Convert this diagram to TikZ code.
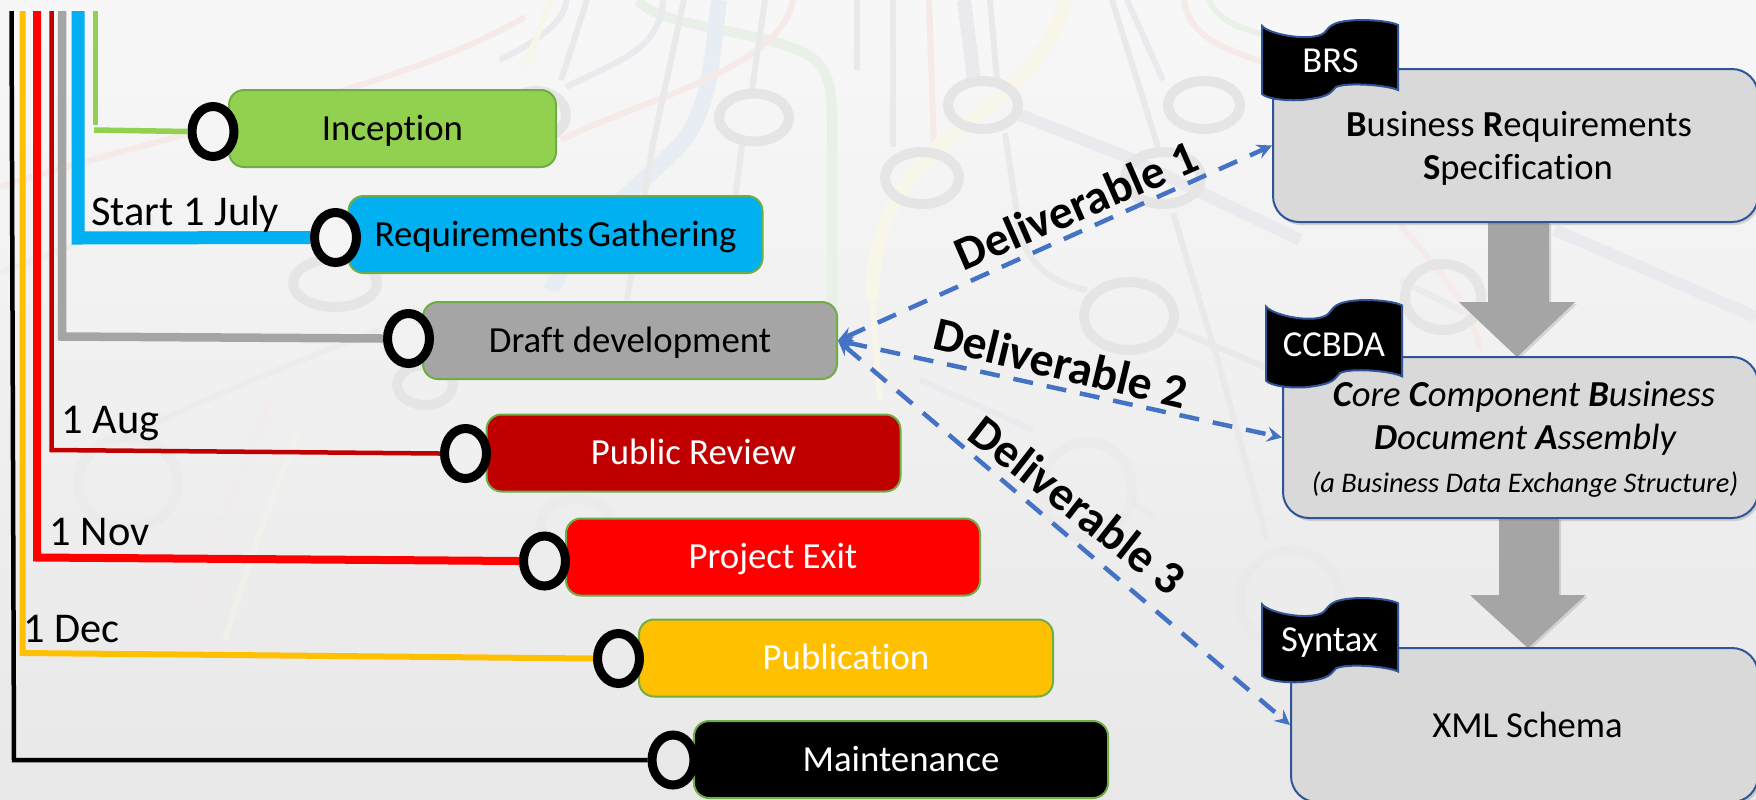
\documentclass[tikz,border=0pt]{standalone}
\usepackage{fontspec}
\setmainfont[Ligatures=NoCommon]{Carlito}
\usetikzlibrary{shapes.geometric,shadows}
\definecolor{stagegreen}{HTML}{92D050}
\definecolor{stageblue}{HTML}{00B0F0}
\definecolor{stagegray}{HTML}{A5A5A5}
\definecolor{stagedark}{HTML}{C00000}
\definecolor{stageamber}{HTML}{FFC000}
\definecolor{stageedge}{HTML}{70AD47}
\definecolor{specfill}{HTML}{D9D9D9}
\definecolor{specedge}{HTML}{2F5597}
\definecolor{dashblue}{HTML}{4472C4}
\definecolor{metrogray}{HTML}{E9E9E9}
\definecolor{metroblue}{HTML}{E8ECF3}
\definecolor{metrolav}{HTML}{EAEAEE}
\definecolor{metropink}{HTML}{F5EAE8}
\definecolor{metrogreen}{HTML}{E9F0E7}
\definecolor{metroyellow}{HTML}{F8F5E9}
\tikzset{
         stagebox/.style={draw=stageedge,line width=1pt,rounded corners=7.5pt,minimum width=207pt,minimum height=38.5pt,inner sep=0pt,text height=14pt,text depth=2.5pt,font=\fontsize{18.4pt}{20pt}\selectfont},
         ringnode/.style={ellipse,draw=black,line width=4.5pt,minimum width=21pt,minimum height=25pt,inner sep=0pt},
         datelabel/.style={font=\fontsize{21.2pt}{24pt}\selectfont,inner sep=0pt,anchor=base west},
         specbox/.style={draw=specedge,line width=1pt,fill=specfill,rounded corners=13pt,inner sep=0pt,drop shadow={shadow xshift=1pt,shadow yshift=-1.5pt,opacity=.3}},
         spectext/.style={font=\fontsize{18.3pt}{21pt}\selectfont,inner sep=0pt},
         tagtext/.style={font=\fontsize{18.3pt}{21pt}\selectfont,text=white,inner sep=0pt},
         wavetag/.pic={
           \draw[draw=specedge,line width=1pt,fill=black](0,6).. controls (8,15) and (50,22) .. (62,13)
             .. controls (68,8) and (66,1) .. (98,0).. controls (115,0) and (130,2) .. (136,5)--(136,70)
             .. controls (125,65) and (85,62) .. (74,67).. controls (68,72) and (70,77) .. (40,80)
             .. controls (25,81) and (5,79) .. (0,74)--cycle;
         },
         blockarrow/.style={fill=stagegray,drop shadow={shadow xshift=1pt,shadow yshift=-1pt,opacity=.25}},
         delivery/.style={dashblue,line width=2.25pt,dash pattern=on 10pt off 7pt,<->,>=stealth},
         deliverylabel/.style={font=\bfseries\fontsize{23.8pt}{26pt}\selectfont,inner sep=0pt},
         metro/.style={line width=3pt,draw=metrogray},
         metroring/.style={line width=5pt,draw=black!10},
        }
\begin{document}
\begin{tikzpicture}[x=.5pt,y=-.5pt]
\useasboundingbox(0,0)rectangle(1756,799);
\clip(0,0)rectangle(1756,799);
%background
\shade[top color=black!3,middle color=black!5,bottom color=black!9](0,0)rectangle(1756,799);
\draw[metro,draw=metrogreen,line width=5pt](638,0).. controls (660,30) and (780,30) .. (815,60).. controls (830,75) and (832,90) .. (832,120)--(832,320);
\draw[metro,draw=metroblue,line width=8pt](719,0).. controls (712,60) and (710,110) .. (680,145).. controls (630,195) and (580,230) .. (551,290);
\draw[metro,draw=metropink](0,187).. controls (180,130) and (400,90) .. (525,17);
\draw[metro,draw=metropink](561,140).. controls (640,100) and (780,70) .. (793,0);
\draw[metro,draw=metrolav](566,87).. controls (620,60) and (660,50) .. (663,0);
\draw[metro](684,0)--(653,143)--(627,300);
\draw[metro](587,0)--(561,80);
\draw[metro,draw=metrolav](500,60).. controls (540,40) and (566,20) .. (566,0);
\draw[metro,draw=metroyellow](551,0)--(525,67);
\draw[metro](765,0)--(752,90);
\draw[metro](742,145)--(735,200);
\draw[metro](857,0)--(857,70);
\draw[metro](893,0)--(893,147);
\draw[metro,draw=metropink](929,0)--(934,147);
\draw[metro,draw=metrolav,line width=7pt](964,0)--(974,80);
\draw[metro](990,0)--(997,80);
\draw[metro,draw=metroyellow,line width=7pt](1066,0).. controls (1050,60) and (1000,100) .. (944,140).. controls (905,180) and (872,220) .. (872,300);
\draw[metro,draw=metrolav,line width=6pt](1015,113)--(1127,157)--(1300,240);
\draw[metro,draw=metrolav,line width=6pt](1555,230)--(1756,317);
\draw[metro](1005,133)--(1020,233).. controls (1030,270) and (1060,285) .. (1087,290);
\draw[metro](1112,0)--(1158,147);
\draw[metro,draw=metrolav](1127,0)--(1163,80);
\draw[metro](1173,213)--(1220,368)--(1267,540);
\draw[metro,draw=metropink](1184,0).. controls (1190,40) and (1230,50) .. (1262,62);
\draw[metro,draw=metrogreen](1209,0).. controls (1220,25) and (1250,30) .. (1265,35);
\draw[metro](1177,330)--(1267,368);
\draw[metro,draw=metrolav](920,380)--(1033,430);
\draw[metro,opacity=.5](1133,502)--(1153,517);
\draw[metro,opacity=.5](0,273).. controls (60,250) and (110,230) .. (153,223);
\draw[metro,opacity=.5](120,440).. controls (200,400) and (300,360) .. (380,330);
\draw[metro,draw=metroyellow,opacity=.4](300,430).. controls (270,500) and (250,560) .. (225,640);
\draw[metro,draw=metropink,opacity=.4](270,400).. controls (240,480) and (210,540) .. (190,620);
\draw[metro,draw=metroyellow](872,300)--(880,400);
\draw[metro,draw=metrolav,opacity=.8](1400,280)--(1500,330);
\draw[metro,draw=metropink,opacity=.8](1400,225).. controls (1430,260) and (1470,300) .. (1480,350);
\foreach \ringx/\ringy/\ringa/\ringb in {754/117.5/35/24,983/105/35/24,1204/105/36/24,922/178/37/26,1163/178/38/26,1129/316/45/34,536/115/30/24,335/283/42/24,
  1443/297/38/33,425/385/28/20}
  \draw[metroring](\ringx,\ringy)ellipse[x radius=\ringa,y radius=\ringb];
\foreach \ringx/\ringy/\ringa/\ringb in {1087/490/45/48,1290/600/50/50,128/483/50/45,576/523/35/24}
  \draw[metroring,opacity=.3](\ringx,\ringy)ellipse[x radius=\ringa,y radius=\ringb];
%stages
\node[stagebox,fill=stagegreen,minimum width=163.5pt](inception)at(392.5,128.5){Inception};
\node[stagebox,fill=stageblue](gathering)at(555.5,234.5){Requirements\hspace{.12em}Gathering};
\node[stagebox,fill=stagegray](draft)at(630,340.5){Draft development};
\node[stagebox,fill=stagedark,text=white](review)at(693.5,453){Public Review};
\node[stagebox,fill=red,text=white](projectexit)at(773,557){Project Exit};
\node[stagebox,fill=stageamber,text=white](publication)at(846,658){Publication};
\node[stagebox,fill=black,text=white](maintenance)at(901,759.5){Maintenance};
%rings
\node[ringnode,fill=black!4](inceptionring)at(213,131.5){};
\node[ringnode,fill=black!4](gatheringring)at(335.5,237.5){};
\node[ringnode,fill=black!5](draftring)at(408.5,338.5){};
\node[ringnode,fill=black!6](reviewring)at(465.5,453.5){};
\node[ringnode,fill=black!7](exitring)at(544.5,561){};
\node[ringnode,fill=black!8](publicationring)at(618.5,658.5){};
\node[ringnode,fill=black!9](maintenancering)at(673,760){};
%tracks
\coordinate(inceptiontop)at(95.5,11);
\coordinate(inceptiondrop)at(95.5,125);
\coordinate(inceptionleft)at(94,130);
\coordinate(gatheringtop)at(78,11);
\coordinate(gatheringbend)at(78,238);
\coordinate(drafttop)at(62,11);
\coordinate(draftbend)at(62,336.5);
\coordinate(reviewtop)at(51.5,11);
\coordinate(reviewbend)at(51.5,450);
\coordinate(exittop)at(37,11);
\coordinate(exitbend)at(37,557.5);
\coordinate(publicationtop)at(22.5,11);
\coordinate(publicationbend)at(22.5,653);
\coordinate(maintenancetop)at(11.5,11);
\coordinate(maintenancebend)at(14,760);
\draw[stagegreen,line width=2.5pt](inceptiontop)--(inceptiondrop);
\draw[stagegreen,line width=2.75pt](inceptionleft)--(inceptionring.west);
\draw[stageblue,line width=6.5pt,line join=miter](gatheringtop)--(gatheringbend)--(gatheringring.west);
\draw[stagegray,line width=4.25pt](drafttop)--(draftbend)--(draftring.west);
\draw[stagedark,line width=2.25pt](reviewtop)--(reviewbend)--(reviewring.west);
\draw[red,line width=4pt](exittop)--(exitbend)--(exitring.west);
\draw[stageamber,line width=3pt](publicationtop)--(publicationbend)--(publicationring.west);
\draw[black,line width=2.25pt](maintenancetop)--(maintenancebend)--(maintenancering.west);
%dates
\node[datelabel](startdate)at(91,225){Start 1 July};
\node[datelabel](augdate)at(61,433){1 Aug};
\node[datelabel](novdate)at(49.5,545){1 Nov};
\node[datelabel](decdate)at(23,642){1 Dec};
%block arrows
\fill[blockarrow](1488,222)--(1549,222)--(1549,302)--(1575,302)--(1517,357)--(1459,302)--(1488,302)--cycle;
\fill[blockarrow](1499,518)--(1559,518)--(1559,595)--(1585.5,595)--(1528,648)--(1470,595)--(1499,595)--cycle;
%specification boxes
\node[specbox,minimum width=242.5pt,minimum height=76.5pt](brs)at(1515.5,145.5){};
\node[specbox,minimum width=237.5pt,minimum height=80.5pt](ccbda)at(1520.5,437.5){};
\node[specbox,minimum width=233.5pt,minimum height=77pt](xmlbox)at(1524.5,725){};
\node[spectext](brsone)at(1519,127){\textbf{B}usiness \textbf{R}equirements};
\node[spectext](brstwo)at(1518,170){\textbf{S}pecification};
\node[spectext,font=\itshape\fontsize{18.3pt}{21pt}\selectfont](ccbdaone)at(1524,397){\textbf{C}ore \textbf{C}omponent \textbf{B}usiness};
\node[spectext,font=\itshape\fontsize{18.3pt}{21pt}\selectfont](ccbdatwo)at(1525,440){\textbf{D}ocument \textbf{A}ssembly};
\node[spectext,font=\itshape\fontsize{14.2pt}{16pt}\selectfont](ccbdathree)at(1525,485){(a Business Data Exchange Structure)};
\node[spectext](xmltext)at(1527.5,725){XML Schema};
%tags
\pic at(1262,20){wavetag};
\pic[yscale=1.09]at(1266,300){wavetag};
\pic[yscale=1.05]at(1262,598){wavetag};
\node[tagtext](brstag)at(1330.5,61){BRS};
\node[tagtext](ccbdatag)at(1334,345){CCBDA};
\node[tagtext](syntaxtag)at(1329.5,643){Syntax};
%deliverables
\draw[delivery](draft.east)--(brs.west);
\draw[delivery](draft.east)--(ccbda.west);
\draw[delivery](draft.east)--(xmlbox.west);
\node[deliverylabel,rotate=23.5](firstlabel)at(1076,205){Deliverable 1};
\node[deliverylabel,rotate=-13.5](secondlabel)at(1061,363){Deliverable 2};
\node[deliverylabel,rotate=-38](thirdlabel)at(1078,505){Deliverable 3};
\end{tikzpicture}
\end{document}
